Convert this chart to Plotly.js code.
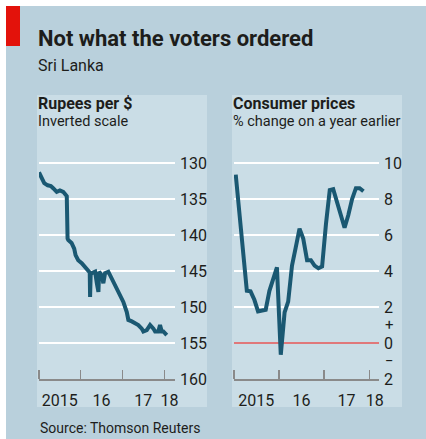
<!DOCTYPE html>
<html>
<head>
<meta charset="utf-8">
<script src="https://cdn.plot.ly/plotly-3.0.1.min.js"></script>
<style>
  html, body { margin: 0; padding: 0; background: #fff; }
  #chart { width: 426px; height: 439px; }
</style>
</head>
<body>
<div id="chart"></div>
<script>
// Rupees per $ (inverted scale)
const rupeeDates = [
    '2015-01-01', '2015-01-24', '2015-02-16', '2015-03-18', '2015-04-15', '2015-05-05',
    '2015-06-05', '2015-07-03', '2015-08-01', '2015-08-22', '2015-09-01', '2015-09-08',
    '2015-09-14', '2015-10-13', '2015-11-05', '2015-11-17', '2015-12-10', '2016-01-10',
    '2016-02-08', '2016-03-08', '2016-03-20', '2016-03-23', '2016-03-28', '2016-04-07',
    '2016-05-06', '2016-05-21', '2016-06-04', '2016-06-10', '2016-07-03', '2016-07-17',
    '2016-08-01', '2016-08-30', '2016-09-14', '2016-10-13', '2016-11-11', '2016-12-10',
    '2017-01-08', '2017-02-07', '2017-02-21', '2017-03-23', '2017-04-21', '2017-05-19',
    '2017-06-18', '2017-07-02', '2017-08-01', '2017-08-30', '2017-09-28', '2017-10-13',
    '2017-11-10', '2017-11-25', '2017-12-10', '2017-12-24', '2018-01-23'
];
const rupeeValues = [
    131.3, 132.1, 132.8, 133.1, 133.2, 133.5,
    134.0, 133.8, 134.0, 134.4, 134.6, 140.5,
    140.7, 141.1, 141.9, 142.8, 143.5, 143.9,
    144.4, 144.9, 145.2, 148.6, 145.5, 145.3,
    145.1, 146.7, 147.9, 145.1, 145.6, 146.7,
    145.3, 145.1, 145.6, 146.3, 147.4, 148.4,
    149.3, 150.7, 151.8, 152.0, 152.3, 152.5,
    153.0, 153.4, 153.2, 152.5, 153.0, 153.4,
    153.4, 152.5, 153.4, 153.4, 153.9
];

// Consumer prices, % change on a year earlier (monthly)
const cpiDates = [
    '2015-01-15', '2015-02-15', '2015-03-15', '2015-04-15', '2015-05-15', '2015-06-15',
    '2015-07-15', '2015-08-15', '2015-09-15', '2015-10-15', '2015-11-15', '2015-12-15',
    '2016-01-15', '2016-02-15', '2016-03-15', '2016-04-15', '2016-05-15', '2016-06-15',
    '2016-07-15', '2016-08-15', '2016-09-15', '2016-10-15', '2016-11-15', '2016-12-15',
    '2017-01-15', '2017-02-15', '2017-03-15', '2017-04-15', '2017-05-15', '2017-06-15',
    '2017-07-15', '2017-08-15', '2017-09-15', '2017-10-15', '2017-11-15'
];
const cpiValues = [
    9.35, 7.2, 5.0, 2.9, 2.87, 2.4,
    1.76, 1.8, 1.85, 2.9, 3.6, 4.2,
    -0.65, 1.7, 2.3, 4.3, 5.3, 6.35,
    5.8, 4.6, 4.6, 4.3, 4.15, 4.25,
    6.6, 8.5, 8.55, 7.8, 7.0, 6.4,
    7.1, 8.0, 8.6, 8.6, 8.43
];

const yearTicks = ['2015-01-01', '2016-01-01', '2017-01-01', '2018-01-01'];
const yearLabelPos = ['2015-07-01', '2016-07-01', '2017-07-01', '2018-02-15'];
const yearLabels = ['2015', '16', '17', '18'];

const rupeeTicks = [130, 135, 140, 145, 150, 155, 160];
const cpiTicks = [-2, 0, 2, 4, 6, 8, 10];
const cpiTickText = ['2', '0', '2', '4', '6', '8', '10'];

const W = 426, H = 439;
const px = x => x / W;
const py = y => 1 - y / H;

const FONT = 'Roboto, "Noto Sans", sans-serif';
const INK = '#1d1d1b';
const LINE = '#1a5872';
const BG = '#b9d0dc';
const PANEL = '#cadde6';

function xAxis(domain, rangeEnd, anchor) {
    return {
        type: 'date',
        domain: domain,
        anchor: anchor,
        range: ['2015-01-01', rangeEnd],
        tickmode: 'array',
        tickvals: yearLabelPos,
        ticktext: yearLabels,
        ticks: '',
        showgrid: false,
        zeroline: false,
        showline: true,
        linecolor: '#8a8a8a',
        linewidth: 1.5,
        tickfont: { family: FONT, size: 16, color: INK },
        ticklabelstandoff: 6,
        minor: {
            tickmode: 'array',
            tickvals: yearTicks,
            ticks: 'inside',
            ticklen: 9,
            tickwidth: 1.5,
            tickcolor: '#8a8a8a',
            showgrid: false
        },
        fixedrange: true
    };
}

const traces = [
    {
        x: rupeeDates,
        y: rupeeValues,
        type: 'scatter',
        mode: 'lines',
        line: { color: LINE, width: 4 },
        xaxis: 'x',
        yaxis: 'y',
        hoverinfo: 'skip'
    },
    {
        x: cpiDates,
        y: cpiValues,
        type: 'scatter',
        mode: 'lines',
        line: { color: LINE, width: 4 },
        xaxis: 'x2',
        yaxis: 'y2',
        hoverinfo: 'skip'
    }
];

const textAnn = (text, x, y, size, bold) => ({
    text: bold ? '<b>' + text + '</b>' : text,
    xref: 'paper', yref: 'paper',
    x: px(x), y: py(y),
    xanchor: 'left', yanchor: 'middle',
    showarrow: false,
    font: { family: FONT, size: size, color: INK }
});

const layout = {
    width: W,
    height: H,
    margin: { l: 0, r: 0, t: 0, b: 0 },
    paper_bgcolor: BG,
    plot_bgcolor: 'rgba(0,0,0,0)',
    showlegend: false,
    xaxis: xAxis([px(39), px(175)], '2018-04-05', 'y'),
    yaxis: {
        domain: [py(379), py(145)],
        anchor: 'x',
        side: 'right',
        range: [160, 127.5],
        tickmode: 'array',
        tickvals: rupeeTicks,
        ticks: '',
        showgrid: true,
        gridcolor: '#ffffff',
        gridwidth: 2,
        zeroline: false,
        showline: false,
        tickfont: { family: FONT, size: 16, color: INK },
        ticklabelstandoff: 4,
        fixedrange: true
    },
    xaxis2: xAxis([px(234), px(379)], '2018-03-21', 'y2'),
    yaxis2: {
        domain: [py(379), py(145)],
        anchor: 'x2',
        side: 'right',
        range: [-2, 11],
        tickmode: 'array',
        tickvals: cpiTicks,
        ticktext: cpiTickText,
        ticks: '',
        showgrid: true,
        gridcolor: '#ffffff',
        gridwidth: 2,
        zeroline: true,
        zerolinecolor: '#e0787a',
        zerolinewidth: 1.5,
        showline: false,
        tickfont: { family: FONT, size: 16, color: INK },
        ticklabelstandoff: 4,
        fixedrange: true
    },
    shapes: [
        // white edge strips
        { type: 'rect', xref: 'paper', yref: 'paper', x0: 0, x1: 1, y0: py(6), y1: 1,
          fillcolor: '#ffffff', line: { width: 0 }, layer: 'below' },
        { type: 'rect', xref: 'paper', yref: 'paper', x0: 0, x1: px(6), y0: 0, y1: 1,
          fillcolor: '#ffffff', line: { width: 0 }, layer: 'below' },
        // red tag
        { type: 'rect', xref: 'paper', yref: 'paper', x0: px(6), x1: px(20), y0: py(46), y1: py(6),
          fillcolor: '#e3120b', line: { width: 0 }, layer: 'below' },
        // chart panels
        { type: 'rect', xref: 'paper', yref: 'paper', x0: px(37), x1: px(207), y0: py(407), y1: py(95),
          fillcolor: PANEL, line: { width: 0 }, layer: 'below' },
        { type: 'rect', xref: 'paper', yref: 'paper', x0: px(232), x1: px(402), y0: py(407), y1: py(95),
          fillcolor: PANEL, line: { width: 0 }, layer: 'below' }
    ],
    annotations: [
        textAnn('Not what the voters ordered', 36, 38, 22, true),
        textAnn('Sri Lanka', 36, 66, 16, false),
        textAnn('Rupees per $', 36, 103, 16, true),
        textAnn('Inverted scale', 36, 122, 14.5, false),
        textAnn('Consumer prices', 231, 103, 16, true),
        textAnn('% change on a year earlier', 231, 122, 14.5, false),
        textAnn('Source: Thomson Reuters', 38, 428, 14, false),
        {
            text: '+', xref: 'paper', yref: 'y2', x: px(389), y: 1,
            xanchor: 'center', yanchor: 'middle', showarrow: false,
            font: { family: FONT, size: 15, color: INK }
        },
        {
            text: '\u2212', xref: 'paper', yref: 'y2', x: px(389), y: -1,
            xanchor: 'center', yanchor: 'middle', showarrow: false,
            font: { family: FONT, size: 15, color: INK }
        }
    ]
};

Plotly.newPlot('chart', traces, layout, { staticPlot: true, displayModeBar: false });
</script>
</body>
</html>
